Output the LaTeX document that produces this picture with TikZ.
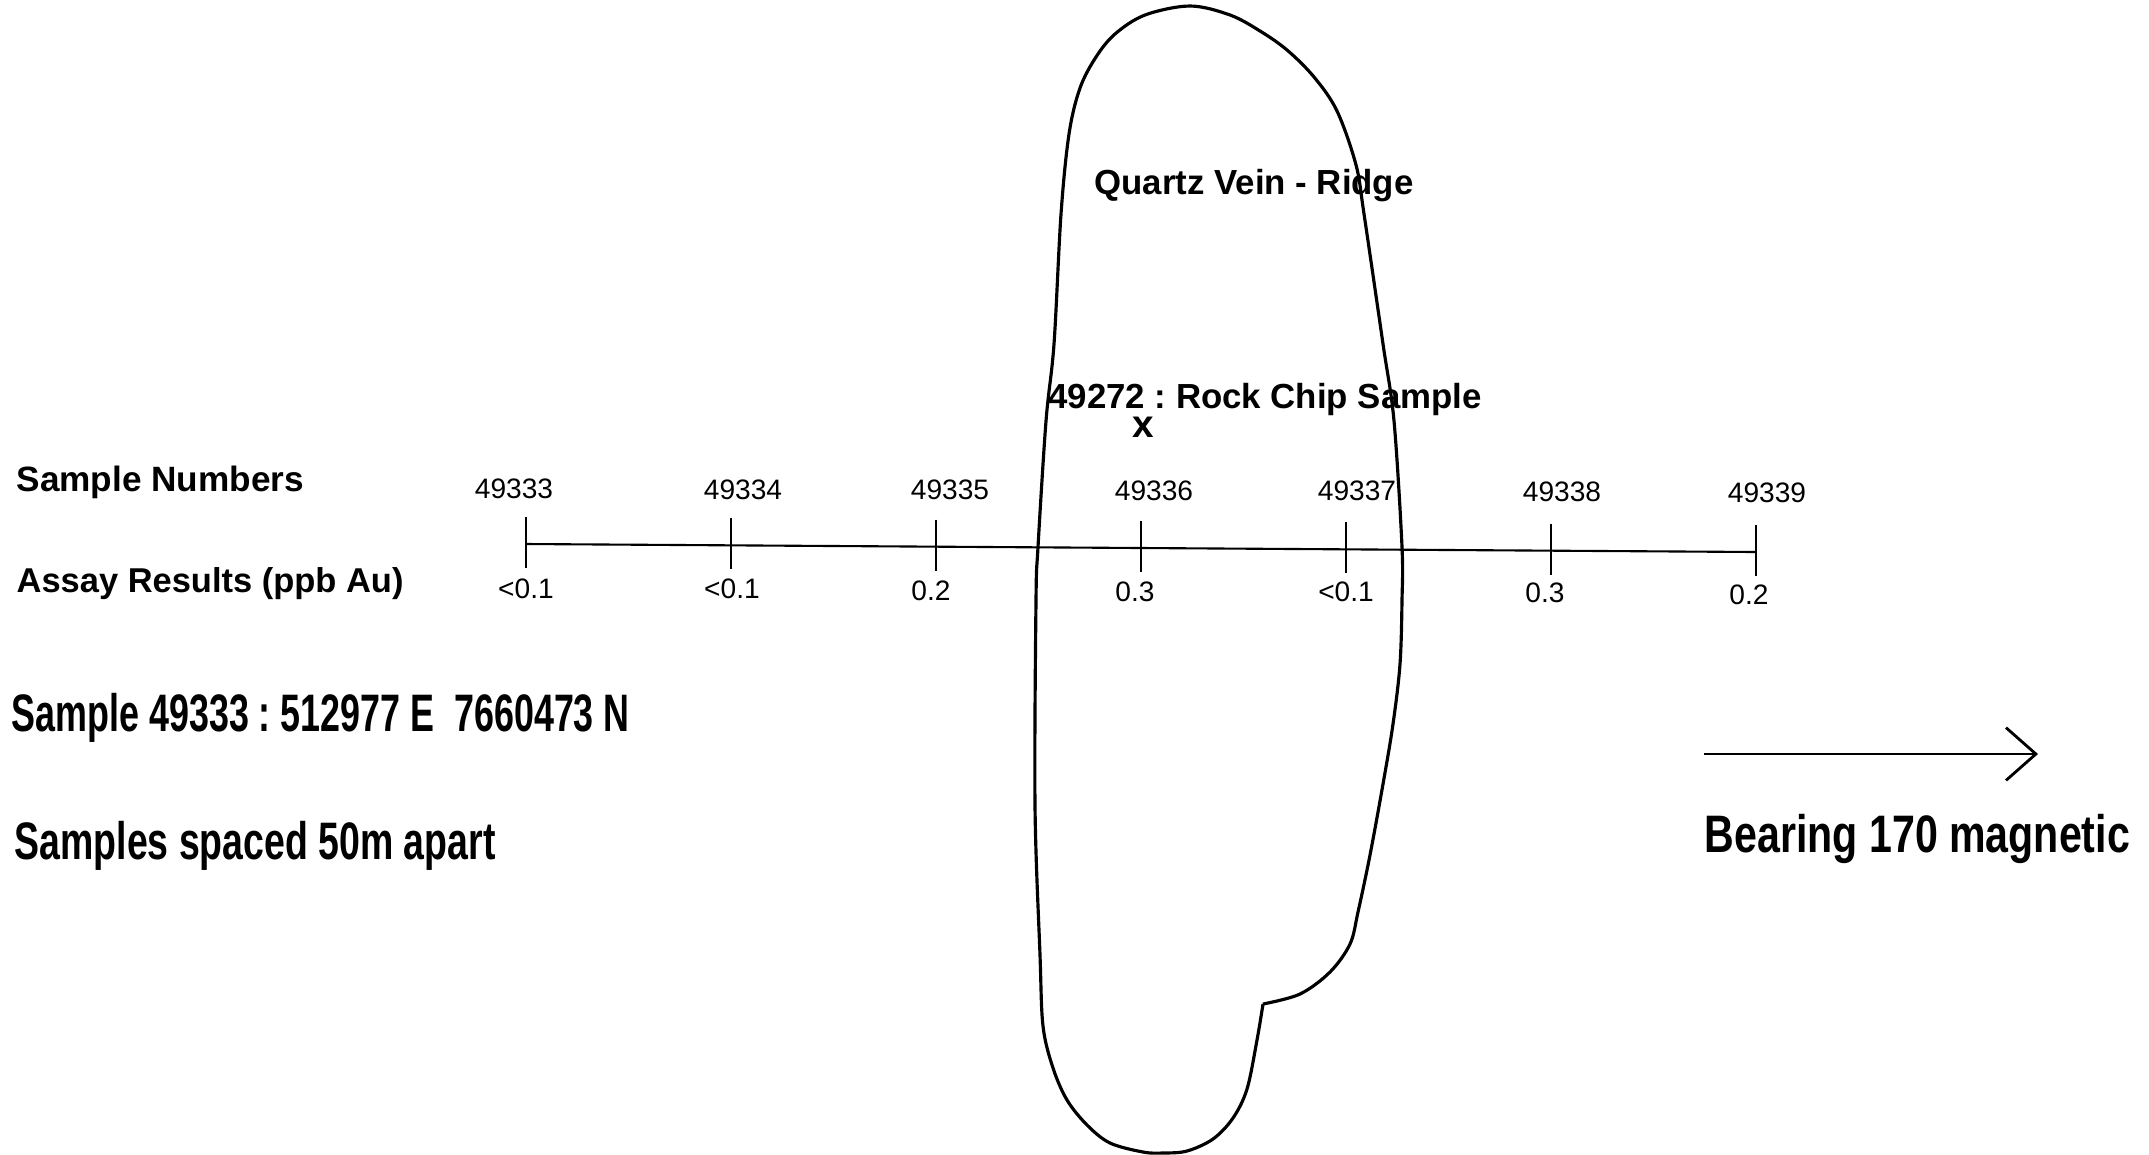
\documentclass[tikz,border=0pt]{standalone}
\usepackage{fontspec}
\setmainfont{Liberation Sans}
\newfontfamily\condfont[FakeStretch=0.68]{Liberation Sans}
\newfontfamily\widecondfont[FakeStretch=0.71]{Liberation Sans}
\newfontfamily\bearfont[FakeStretch=0.78]{Liberation Sans}
\frenchspacing
\usetikzlibrary{arrows.meta,calc}
\tikzset{
  heading/.style={font=\fontsize{9.8}{12}\selectfont\bfseries,inner sep=0pt,anchor=west},
  sampno/.style={font=\fontsize{8}{10}\selectfont,inner sep=0pt},
  assayval/.style={font=\fontsize{8}{10}\selectfont,inner sep=0pt},
  veinlabel/.style={font=\fontsize{9.9}{12}\selectfont\bfseries,inner sep=0pt},
  note/.style={font=\condfont\fontsize{15}{18}\selectfont\bfseries,inner sep=0pt,anchor=west},
  tickline/.style={line width=0.6pt},
  vein/.style={line width=0.9pt,line join=round}
}

\begin{document}
\begin{tikzpicture}[x=0.01cm,y=-0.01cm]
  \useasboundingbox (0,0) rectangle (2149,1154);
  % traverse line
  \coordinate (t1) at (526,544);
  \coordinate (t7) at (1756,552);
  \coordinate (t2) at ($(t1)!1/6!(t7)$);
  \coordinate (t3) at ($(t1)!2/6!(t7)$);
  \coordinate (t4) at ($(t1)!3/6!(t7)$);
  \coordinate (t5) at ($(t1)!4/6!(t7)$);
  \coordinate (t6) at ($(t1)!5/6!(t7)$);
  \draw[tickline] (t1)--(t7);
  \draw[tickline] (t1) ++(0,-27) -- ++(0,51);
  \draw[tickline] (t2) ++(0,-27) -- ++(0,51);
  \draw[tickline] (t3) ++(0,-27) -- ++(0,51);
  \draw[tickline] (t4) ++(0,-27) -- ++(0,51);
  \draw[tickline] (t5) ++(0,-27) -- ++(0,51);
  \draw[tickline] (t6) ++(0,-27) -- ++(0,51);
  \draw[tickline] (t7) ++(0,-27) -- ++(0,51);
  % row titles
  \node[heading,font=\fontsize{10}{12}\selectfont\bfseries] (snum) at (16,482) {Sample Numbers};
  \node[heading] (assay) at (16,584) {Assay Results (ppb Au)};
  % sample numbers
  \node[sampno] (s1) at (514,489) {49333};
  \node[sampno] (s2) at (743,490) {49334};
  \node[sampno] (s3) at (950,490) {49335};
  \node[sampno] (s4) at (1154,491) {49336};
  \node[sampno] (s5) at (1357,491) {49337};
  \node[sampno] (s6) at (1562,492) {49338};
  \node[sampno] (s7) at (1767,493) {49339};
  % assay values
  \node[assayval] (a1) at (526,589) {<0.1};
  \node[assayval] (a2) at (732,589) {<0.1};
  \node[assayval] (a3) at (931,591) {0.2};
  \node[assayval] (a4) at (1135,592) {0.3};
  \node[assayval] (a5) at (1346,592) {<0.1};
  \node[assayval] (a6) at (1545,593) {0.3};
  \node[assayval] (a7) at (1749,595) {0.2};
  % quartz vein outline
  \draw[vein] plot[smooth,tension=0.55] coordinates {
    (1263,1004) (1300,994) (1330,972) (1350,944) (1358,912) (1370,855)
    (1383,784) (1393,724) (1400,664) (1402,600) (1402,547) (1394,421)
    (1383,344) (1364,214) (1356,165) (1337,111) (1314,77) (1287,50)
    (1260,31) (1230,15) (1190,6) (1145,15) (1115,34) (1096,57) (1080,88)
    (1069,134) (1061,214) (1054,344) (1046,421) (1038,547) (1036,600)
    (1035,806) (1040,955) (1043,1026) (1053,1068) (1067,1100) (1087,1125)
    (1110,1143) (1143,1152) (1163,1153) (1187,1151) (1213,1139) (1233,1118)
    (1247,1089) (1257,1040) (1263,1004)};
  \node[veinlabel] (qv) at (1254,186) {Quartz Vein - Ridge};
  \node[veinlabel] (rock) at (1265,399) {49272 : Rock Chip Sample};
  \node[veinlabel,font=\fontsize{11}{12}\selectfont\bfseries] (xmark) at (1143,427) {x};
  % notes
  \node[note] (loc) at (11,718) {Sample 49333 : 512977 E~~7660473 N};
  \node[note,font=\widecondfont\fontsize{15}{18}\selectfont\bfseries] (space) at (14,846) {Samples spaced 50m apart};
  % bearing arrow
  \coordinate (b0) at (1704,754);
  \coordinate (b1) at (2038,754);
  \draw[line width=0.6pt,-{Straight Barb[length=8.5pt,width=15pt,line width=0.8pt]}] (b0)--(b1);
  \node[note,font=\bearfont\fontsize{15}{18}\selectfont\bfseries] (bear) at (1704,839) {Bearing 170 magnetic};
\end{tikzpicture}
\end{document}
